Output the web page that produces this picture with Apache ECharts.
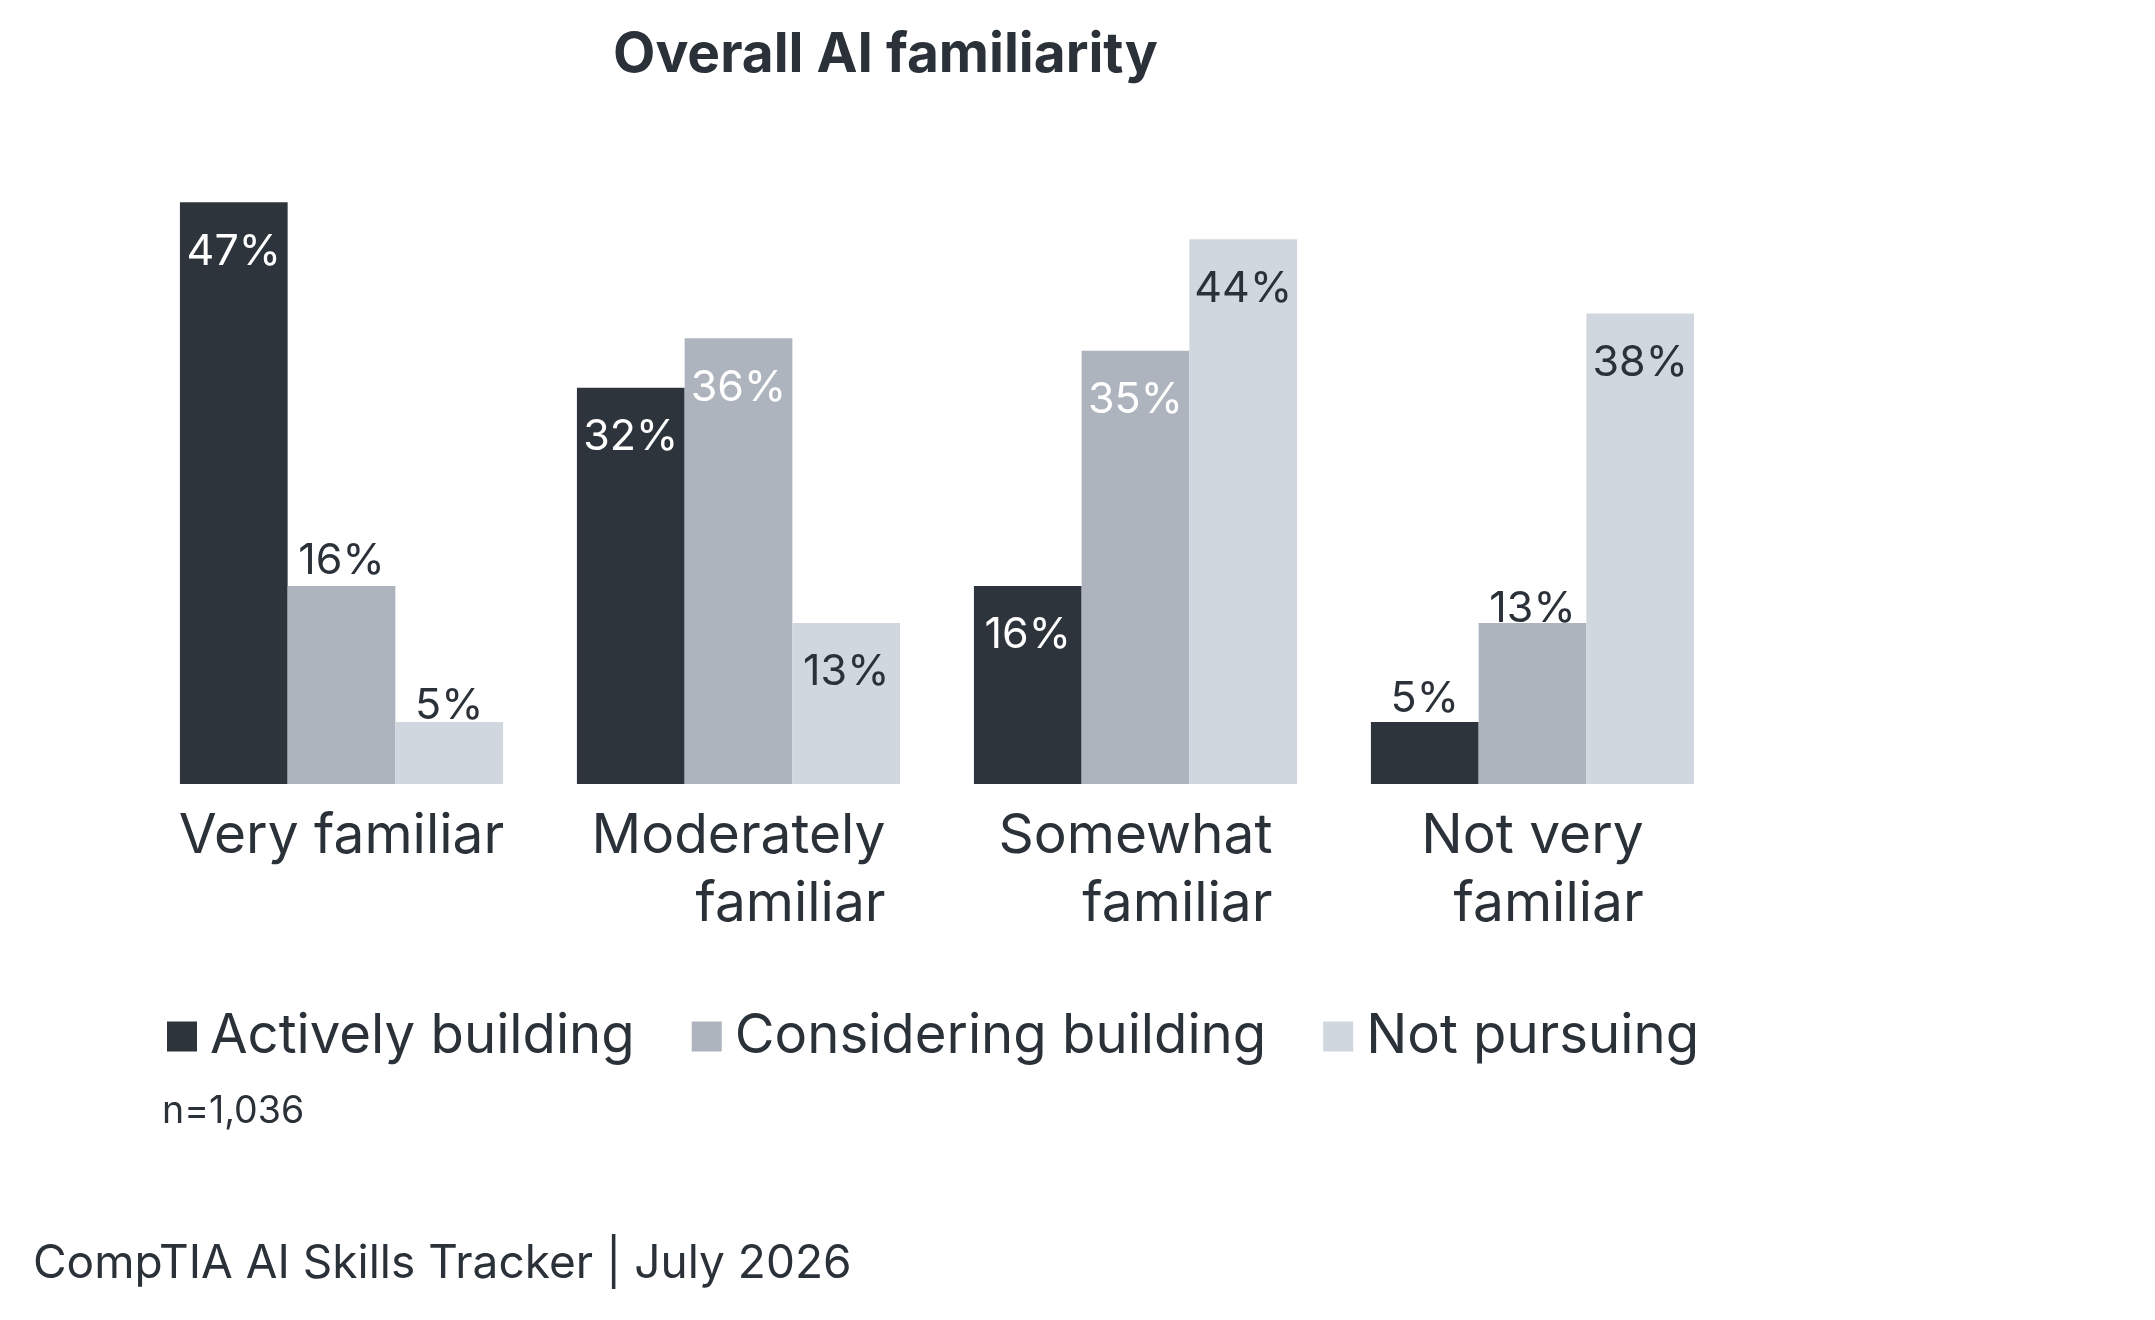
<!DOCTYPE html>
<html>
<head>
<meta charset="utf-8">
<title>Overall AI familiarity</title>
<script src="https://cdn.jsdelivr.net/npm/echarts@6/dist/echarts.min.js"></script>
<style>
  html, body { margin: 0; padding: 0; background: #fff; }
  #chart { width: 2155px; height: 1320px; }
</style>
</head>
<body>
<div id="chart"></div>
<script>
const categories = ['Very familiar', 'Moderately\nfamiliar', 'Somewhat\nfamiliar', 'Not very\nfamiliar']
const seriesNames = ['Actively building', 'Considering building', 'Not pursuing']
const activelyBuilding = [47, 32, 16, 5]
const consideringBuilding = [16, 36, 35, 13]
const notPursuing = [5, 13, 44, 38]

const FONT = 'Inter'
const TEXT = '#2b3138'
const colors = ['#2e343b', '#adb4bd', '#d0d7de']
const insideText = ['#ffffff', '#ffffff', TEXT]
// which bars get their label above the bar (null = inside), value = distance
const aboveDistance = [
  [null, null, null, 2],
  [3, null, null, -8],
  [-5, null, null, null]
]

const chart = echarts.init(document.getElementById('chart'))

const makeSeries = (name, values, idx) => ({
  name,
  type: 'bar',
  barGap: 0,
  barCategoryGap: '18.6%',
  itemStyle: { color: colors[idx] },
  data: values.map((v, i) => {
    const d = aboveDistance[idx][i]
    const label = d === null
      ? { position: 'insideTop', distance: 28, color: insideText[idx] }
      : { position: 'top', distance: d, color: TEXT }
    return { value: v, label }
  }),
  label: {
    show: true,
    fontFamily: FONT,
    fontSize: 43,
    formatter: (p) => p.value + '%'
  },
  emphasis: { disabled: true }
})

chart.setOption({
  animation: false,
  title: {
    text: 'Overall AI familiarity',
    left: 608,
    top: 23,
    textStyle: { fontFamily: FONT, fontWeight: 'bold', fontSize: 55, color: TEXT }
  },
  grid: { left: 143, width: 1588, top: 165, height: 619 },
  xAxis: {
    type: 'category',
    data: categories,
    axisLine: { show: false },
    axisTick: { show: false },
    axisLabel: {
      margin: 18,
      interval: 0,
      formatter: (v) => v.split('\n').map(s => '{r|' + s + '}').join('\n'),
      rich: {
        r: { align: 'right', fontFamily: FONT, fontSize: 55, lineHeight: 68, color: TEXT }
      }
    }
  },
  yAxis: { type: 'value', min: 0, max: 50, show: false },
  legend: {
    left: 162,
    top: 1004,
    icon: 'rect',
    itemWidth: 30,
    itemHeight: 30,
    itemGap: 57,
    data: seriesNames,
    textStyle: { fontFamily: FONT, fontSize: 54.5, color: TEXT, padding: [0, 0, 0, 8] }
  },
  graphic: [
    {
      type: 'text',
      left: 162,
      top: 1093,
      style: { text: 'n=1,036', font: '37.5px Inter', fill: TEXT }
    },
    {
      type: 'text',
      left: 33,
      top: 1241,
      style: { text: 'CompTIA AI Skills Tracker | July 2026', font: '46px Inter', fill: TEXT }
    }
  ],
  series: [
    makeSeries(seriesNames[0], activelyBuilding, 0),
    makeSeries(seriesNames[1], consideringBuilding, 1),
    makeSeries(seriesNames[2], notPursuing, 2)
  ]
})
</script>
</body>
</html>
